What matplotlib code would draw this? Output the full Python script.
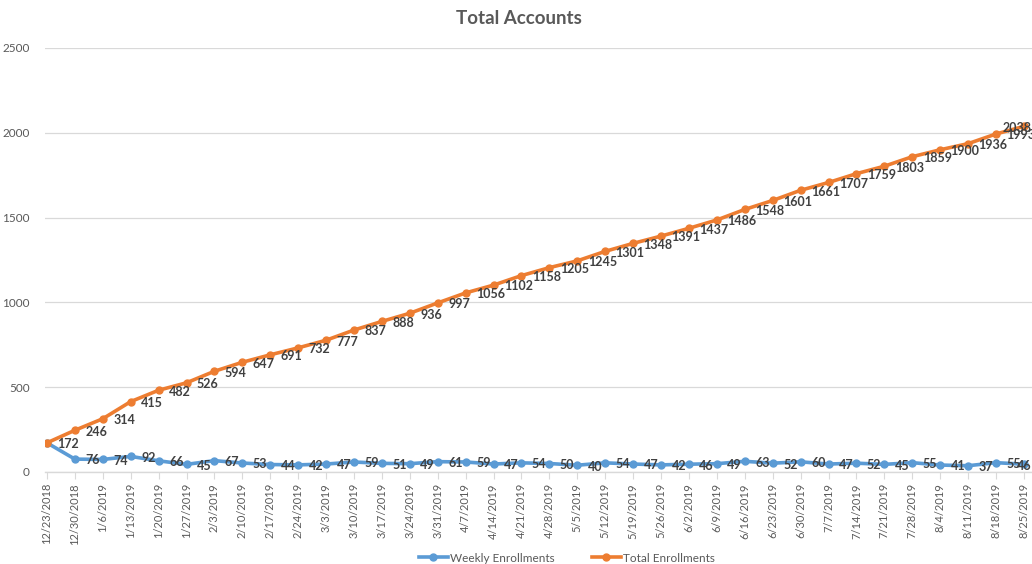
import matplotlib
matplotlib.use("Agg")
import matplotlib.pyplot as plt

dates = ["12/23/2018", "12/30/2018", "1/6/2019", "1/13/2019", "1/20/2019", "1/27/2019",
         "2/3/2019", "2/10/2019", "2/17/2019", "2/24/2019", "3/3/2019", "3/10/2019",
         "3/17/2019", "3/24/2019", "3/31/2019", "4/7/2019", "4/14/2019", "4/21/2019",
         "4/28/2019", "5/5/2019", "5/12/2019", "5/19/2019", "5/26/2019", "6/2/2019",
         "6/9/2019", "6/16/2019", "6/23/2019", "6/30/2019", "7/7/2019", "7/14/2019",
         "7/21/2019", "7/28/2019", "8/4/2019", "8/11/2019", "8/18/2019", "8/25/2019"]
weekly = [172, 76, 74, 92, 66, 45, 67, 53, 44, 42, 47, 59, 51, 49, 61, 59, 47, 54,
          50, 40, 54, 47, 42, 46, 49, 63, 52, 60, 47, 52, 45, 55, 41, 37, 55, 46]
total = [172, 246, 314, 415, 482, 526, 594, 647, 691, 732, 777, 837, 888, 936, 997,
         1056, 1102, 1158, 1205, 1245, 1301, 1348, 1391, 1437, 1486, 1548, 1601, 1661,
         1707, 1759, 1803, 1859, 1900, 1936, 1993, 2038]

plt.rcParams['font.family'] = ['Lato', 'DejaVu Sans']

fig = plt.figure(figsize=(10.32, 5.64), dpi=100)
W, H = 1032, 564
ax = fig.add_axes([45 / W, 1 - 472 / H, (1032 - 45) / W, (472 - 48) / H])

x = list(range(len(dates)))
blue = "#5B9BD5"
orange = "#ED7D31"
ax.plot(x, weekly, color=blue, lw=2.6, marker='o', ms=5, label="Weekly Enrollments", zorder=3)
ax.plot(x, total, color=orange, lw=2.6, marker='o', ms=5, label="Total Enrollments", zorder=4)

lab_col = "#404040"
last = len(dates) - 1


def put_label(i, v):
    if i == last:
        # keep the last label inside the chart, as the reference does
        ax.annotate(str(v), (i, v), xytext=(5.5, -1), textcoords='offset points',
                    ha='right', va='center', fontsize=9, fontweight='bold',
                    color=lab_col, zorder=5)
    else:
        ax.annotate(str(v), (i, v), xytext=(7.5, -1), textcoords='offset points',
                    ha='left', va='center', fontsize=9, fontweight='bold',
                    color=lab_col, zorder=5)


for i, v in enumerate(weekly):
    if i == 0:
        continue
    put_label(i, v)
for i, v in enumerate(total):
    put_label(i, v)

ax.set_xlim(-0.07, 35.29)
ax.set_ylim(0, 2500)
ax.set_yticks([0, 500, 1000, 1500, 2000, 2500])
ax.set_xticks(x)
ax.set_xticklabels(dates, rotation=90, fontsize=8, color="#595959")
ax.tick_params(axis='y', length=0, labelsize=8.5, labelcolor="#595959", pad=11)
ax.tick_params(axis='x', length=5, color="#D9D9D9", pad=3)
ax.grid(axis='y', color="#D9D9D9", lw=0.9)
ax.set_axisbelow(True)
for s in ['top', 'right', 'left']:
    ax.spines[s].set_visible(False)
ax.spines['bottom'].set_color("#D9D9D9")
ax.spines['bottom'].set_linewidth(1)
ax.spines['bottom'].set_zorder(1)

fig.text(519 / W, 1 - 18 / H, "Total Accounts", ha='center', va='center',
         fontsize=13.5, fontweight='bold', color="#595959")

fig.legend(loc='center', bbox_to_anchor=(567 / W, 1 - 558 / H), ncol=2, frameon=False,
           fontsize=8.5, labelcolor="#595959", handlelength=2.4, columnspacing=3.2,
           handletextpad=0.2, markerscale=1.0)

fig.savefig("out.png", dpi=100)
